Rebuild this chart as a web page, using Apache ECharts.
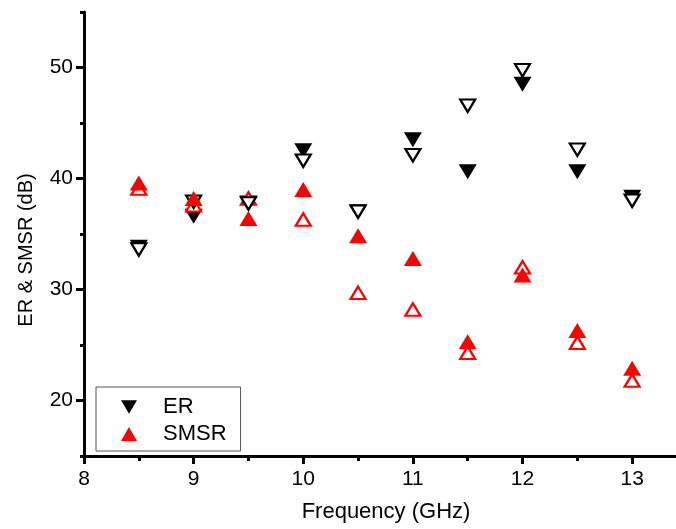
<!DOCTYPE html>
<html>
<head>
<meta charset="utf-8">
<script src="https://cdn.jsdelivr.net/npm/echarts@6/dist/echarts.min.js"></script>
<style>
html,body{margin:0;padding:0;background:#fff;}
#c{width:676px;height:529px;}
</style>
</head>
<body>
<div id="c"></div>
<script>
const freq = [8.5, 9, 9.5, 10, 10.5, 11, 11.5, 12, 12.5, 13];
const erFilled = [33.8, 36.6, 37.8, 42.5, 37.0, 43.5, 40.6, 48.5, 40.6, 38.3];
const erOpen = [33.6, 37.9, 37.75, 41.6, 37.0, 42.1, 46.55, 49.75, 42.6, 38.0];
const smsrFilled = [39.6, 38.2, 36.4, 39.0, 34.85, 32.8, 25.3, 31.3, 26.3, 22.9];
const smsrOpen = [39.1, 37.6, 38.2, 36.3, 29.7, 28.2, 24.3, 32.0, 25.2, 21.8];
const xMajorTicks = [8, 9, 10, 11, 12, 13];
const xMinorTicks = [8.5, 9.5, 10.5, 11.5, 12.5];
const yMajorTicks = [20, 30, 40, 50];
const yMinorTicks = [15, 25, 35, 45, 55];

const FONT = 'Liberation Sans, Arial, sans-serif';
const pair = (xs, ys) => xs.map((x, i) => [x, ys[i]]);
const downPath = 'path://M0,0L18,0L9,15Z';

const chart = echarts.init(document.getElementById('c'), null, {renderer: 'canvas'});
chart.setOption({
  animation: false,
  backgroundColor: '#fff',
  grid: {left: 84, right: 0, top: 12, bottom: 73, containLabel: false},
  legend: {
    orient: 'vertical',
    left: 96, top: 387,
    padding: [9, 14, 6, 25],
    itemGap: 5,
    itemWidth: 16, itemHeight: 14,
    borderColor: '#555', borderWidth: 1, borderRadius: 0,
    backgroundColor: '#fff',
    textStyle: {fontFamily: FONT, fontSize: 22, color: '#000', padding: [0, 0, 0, 21], lineHeight: 20},
    data: [
      {name: 'ER', icon: downPath, itemStyle: {color: '#000'}},
      {name: 'SMSR', icon: 'triangle', itemStyle: {color: '#ff0000'}}
    ]
  },
  xAxis: [{
    type: 'value', min: 8, max: 13.4,
    name: 'Frequency (GHz)', nameLocation: 'middle', nameGap: 45,
    nameTextStyle: {fontFamily: FONT, fontSize: 22, color: '#000', padding: [0, 0, 0, 12]},
    axisLine: {show: true, onZero: false, lineStyle: {color: '#000', width: 3}},
    axisTick: {show: true, inside: false, length: 8, lineStyle: {color: '#000', width: 3}, customValues: xMajorTicks},
    axisLabel: {show: true, margin: 13, fontFamily: FONT, fontSize: 21, color: '#000', customValues: xMajorTicks,
      formatter: v => String(v)},
    splitLine: {show: false}
  }, {
    type: 'value', min: 8, max: 13.4, position: 'bottom', gridIndex: 0,
    axisLine: {show: false},
    axisTick: {show: true, inside: false, length: 5, lineStyle: {color: '#000', width: 3}, customValues: xMinorTicks},
    axisLabel: {show: false},
    splitLine: {show: false}
  }],
  yAxis: [{
    type: 'value', min: 15, max: 55,
    name: 'ER & SMSR (dB)', nameLocation: 'middle', nameRotate: 90, nameGap: 48,
    nameTextStyle: {fontFamily: FONT, fontSize: 20, color: '#000', padding: [0, 32, 0, 0]},
    axisLine: {show: true, onZero: false, lineStyle: {color: '#000', width: 3}},
    axisTick: {show: true, inside: false, length: 8, lineStyle: {color: '#000', width: 3}, customValues: yMajorTicks},
    axisLabel: {show: true, margin: 11, fontFamily: FONT, fontSize: 21, color: '#000', customValues: yMajorTicks,
      formatter: v => String(v)},
    splitLine: {show: false}
  }, {
    type: 'value', min: 15, max: 55, position: 'left',
    axisLine: {show: false},
    axisTick: {show: true, inside: false, length: 4, lineStyle: {color: '#000', width: 3}, customValues: yMinorTicks},
    axisLabel: {show: false},
    splitLine: {show: false}
  }],
  series: [
    {
      name: 'ER', type: 'scatter', data: pair(freq, erFilled), z: 2,
      symbol: 'triangle', symbolRotate: 180, symbolSize: [18, 15],
      itemStyle: {color: '#000', opacity: 1}
    },
    {
      name: 'SMSR open', type: 'scatter', data: pair(freq, smsrOpen), z: 3,
      symbol: 'triangle', symbolSize: [15, 12.5],
      itemStyle: {color: '#fff', borderColor: '#ff0000', borderWidth: 2.2, borderJoin: 'miter', opacity: 1}
    },
    {
      name: 'ER open', type: 'scatter', data: pair(freq, erOpen), z: 4,
      symbol: 'triangle', symbolRotate: 180, symbolSize: [15, 12.5],
      itemStyle: {color: '#fff', borderColor: '#000', borderWidth: 2.2, borderJoin: 'miter', opacity: 1}
    },
    {
      name: 'SMSR', type: 'scatter', data: pair(freq, smsrFilled), z: 5,
      symbol: 'triangle', symbolSize: [18, 15],
      itemStyle: {color: '#ff0000', opacity: 1}
    }
  ]
});
</script>
</body>
</html>
